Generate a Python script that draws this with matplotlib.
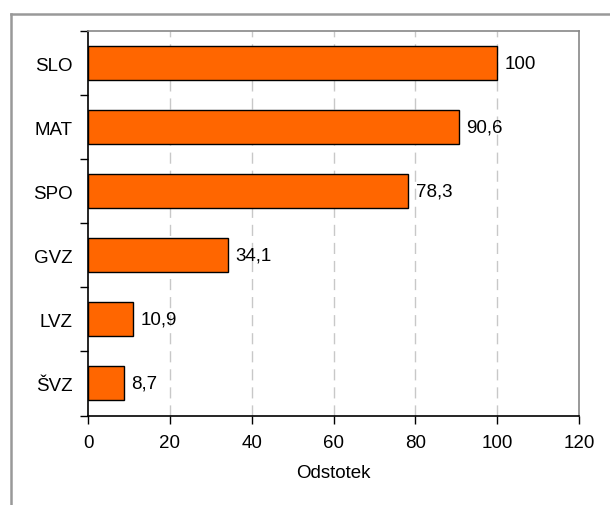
import matplotlib.pyplot as plt
from matplotlib.lines import Line2D

plt.rcParams['font.family'] = ['Liberation Sans', 'DejaVu Sans']

categories = ['SLO', 'MAT', 'SPO', 'GVZ', 'LVZ', 'ŠVZ']
values = [100, 90.6, 78.3, 34.1, 10.9, 8.7]
value_labels = ['100', '90,6', '78,3', '34,1', '10,9', '8,7']
x_ticks = [0, 20, 40, 60, 80, 100, 120]

fs = 13.5

fig = plt.figure(figsize=(6.1, 5.06), dpi=100)
ax = fig.add_axes([88 / 610, 1 - 416.5 / 506, (579 - 88) / 610, (416.5 - 32) / 506])

# outer chart frame (gray, top and left only visible)
fig.add_artist(Line2D([11 / 610, 1.0], [1 - 15 / 506, 1 - 15 / 506], transform=fig.transFigure,
                      color='#999999', lw=1.8))
fig.add_artist(Line2D([11 / 610, 11 / 610], [0.0, 1 - 15 / 506], transform=fig.transFigure,
                      color='#999999', lw=1.8))

ypos = list(range(len(categories)))[::-1]
ax.barh(ypos, values, height=0.53, color='#FF6600', edgecolor='black', linewidth=1, zorder=3)

for y, v, lab in zip(ypos, values, value_labels):
    ax.annotate(lab, (v, y), xytext=(5.5, 0), textcoords='offset points',
                va='center', ha='left', fontsize=fs)

ax.set_xlim(0, 120)
ax.set_ylim(-0.5, len(categories) - 0.5)
ax.set_xticks(x_ticks)
ax.set_xticklabels([str(t) for t in x_ticks], fontsize=fs)
ax.set_yticks([y - 0.5 for y in range(len(categories) + 1)])
ax.set_yticklabels([])
ax.set_yticks(ypos, minor=True)
ax.set_yticklabels(categories, minor=True, fontsize=fs)
ax.tick_params(axis='y', which='minor', length=0, pad=11)
ax.tick_params(axis='y', which='major', length=6, direction='out', width=1)
ax.tick_params(axis='x', length=6, direction='out', width=1, pad=7)

for gx in x_ticks[1:-1]:
    ax.axvline(gx, color='#C8C8C8', lw=1, ls=(0, (8, 5)), zorder=1)

ax.spines['left'].set_color('black')
ax.spines['bottom'].set_color('black')
ax.spines['top'].set_color('#888888')
ax.spines['right'].set_color('#888888')
for s in ax.spines.values():
    s.set_linewidth(1.2)

ax.set_xlabel('Odstotek', fontsize=fs, labelpad=10)

fig.savefig('out.png', dpi=100)
